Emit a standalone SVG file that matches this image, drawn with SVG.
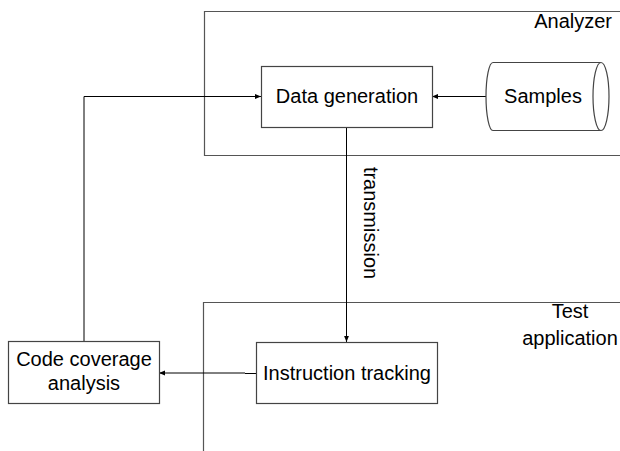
<svg xmlns="http://www.w3.org/2000/svg" width="620" height="451" viewBox="0 0 620 451">
<defs>
<style>
text{font-family:"Liberation Sans",Arial,sans-serif;font-size:20px;fill:#000}
.box{fill:#fff;stroke:#444;stroke-width:1.2}
.cont{fill:none;stroke:#555;stroke-width:1.2}
.conn{fill:none;stroke:#000;stroke-width:1}
</style>
<marker id="ah" viewBox="0 0 10 10" refX="10" refY="5" markerWidth="6" markerHeight="6" markerUnits="userSpaceOnUse" orient="auto">
<path d="M0,1 L10,5 L0,9 Z" fill="#000"/>
</marker>
</defs>
<rect width="620" height="451" fill="#fff"/>
<g id="analyzer">
<path class="cont" d="M630,11.5 H204.5 V155.5 H630"/>
<text x="612" y="28" text-anchor="end">Analyzer</text>
</g>
<g id="test-application">
<path class="cont" d="M630,302.5 H203.5 V460"/>
<text x="570" y="318" text-anchor="middle">Test</text>
<text x="570" y="345" text-anchor="middle">application</text>
</g>
<g id="connectors">
<path class="conn" d="M84,341 V96.5 H261" marker-end="url(#ah)"/>
<path class="conn" d="M487,96.5 H432" marker-end="url(#ah)"/>
<path class="conn" d="M346.5,127 V342" marker-end="url(#ah)"/>
<path class="conn" d="M245,373 H159" marker-end="url(#ah)"/>
<path class="conn" d="M245,373.5 H256" stroke="#666"/>
<text transform="translate(364,223) rotate(90)" text-anchor="middle">transmission</text>
</g>
<g id="data-generation">
<rect class="box" x="261.5" y="66.5" width="171" height="61"/>
<text x="347" y="103" text-anchor="middle">Data generation</text>
</g>
<g id="samples">
<path class="box" d="M493,62.5 H601 A8,34 0 0 1 601,130.5 H493 A7,34 0 0 1 493,62.5 Z"/>
<path class="box" fill="none" d="M601,62.5 A8,34 0 0 0 601,130.5"/>
<text x="543" y="103" text-anchor="middle">Samples</text>
</g>
<g id="code-coverage">
<rect class="box" x="8.5" y="341.5" width="151" height="62"/>
<text x="84" y="366" text-anchor="middle">Code coverage</text>
<text x="84" y="390" text-anchor="middle">analysis</text>
</g>
<g id="instruction-tracking">
<rect class="box" x="256.5" y="342.5" width="181" height="61"/>
<text x="347" y="380" text-anchor="middle">Instruction tracking</text>
</g>
</svg>
